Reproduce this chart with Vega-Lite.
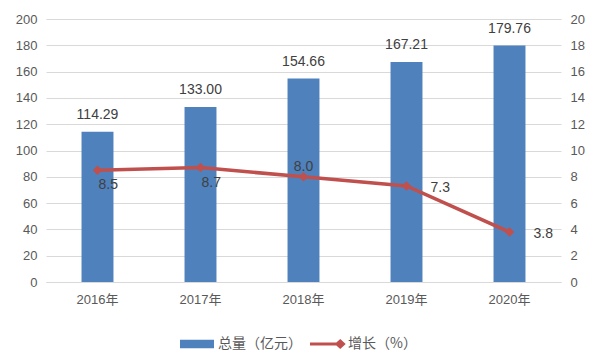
{
  "$schema": "https://vega.github.io/schema/vega-lite/v6.json",
  "width": 515,
  "height": 263,
  "autosize": {"type": "none"},
  "padding": {"left": 46, "top": 19, "right": 41, "bottom": 80},
  "background": "white",
  "config": {
    "font": "Liberation Sans, Noto Sans CJK SC",
    "view": {"stroke": null},
    "axis": {"labelFont": "Liberation Sans, Noto Sans CJK SC", "labelColor": "#595959", "labelFontSize": 13, "title": null, "ticks": false, "labelOverlap": false},
    "legend": {"labelFont": "Noto Sans CJK SC", "labelColor": "#595959", "labelFontSize": 14}
  },
  "data": {
    "values": [
      {"year": "2016年", "total": 114.29, "growth": 8.5},
      {"year": "2017年", "total": 133.00, "growth": 8.7},
      {"year": "2018年", "total": 154.66, "growth": 8.0},
      {"year": "2019年", "total": 167.21, "growth": 7.3},
      {"year": "2020年", "total": 179.76, "growth": 3.8}
    ]
  },
  "encoding": {
    "x": {
      "field": "year",
      "type": "nominal",
      "sort": null,
      "scale": {"paddingInner": 0.69, "paddingOuter": 0.345},
      "axis": {"labelAngle": 0, "domainColor": "#D9D9D9", "domainWidth": 1, "labelPadding": 11}
    }
  },
  "layer": [
    {
      "encoding": {
        "y": {"field": "total", "type": "quantitative", "scale": {"domain": [0, 200]},
          "axis": {"orient": "left", "values": [0,20,40,60,80,100,120,140,160,180,200], "labelOverlap": false, "domain": false, "grid": true, "gridColor": "#D9D9D9", "labelPadding": 9}}
      },
      "layer": [
        {
          "mark": {"type": "bar", "fill": "#4F81BD"},
          "encoding": {
            "color": {"datum": "总量（亿元）", "type": "nominal",
              "scale": {"domain": ["总量（亿元）", "增长（%）"], "range": ["#4F81BD", "#C0504D"]},
              "legend": {
                "orient": "none", "legendX": 134, "legendY": 308, "direction": "horizontal", "title": null,
                "symbolSize": 1156, "symbolStrokeWidth": 0, "labelOffset": 4, "columnPadding": 8,
                "encode": {"symbols": {"update": {
                  "shape": {"signal": "datum.label === '总量（亿元）' ? 'M-1,-0.25H1V0.25H-1Z' : 'M-1,-0.09H0.55V0.09H-1Z M0.45,0L0.78,-0.3L1.1,0L0.78,0.3Z'"},
                  "fill": {"signal": "datum.label === '总量（亿元）' ? '#4F81BD' : '#C0504D'"},
                  "stroke": {"value": null}, "strokeWidth": {"value": 0}, "opacity": {"value": 1}, "fillOpacity": {"value": 1}
                }}}
              }}
          }
        },
        {
          "mark": {"type": "text", "baseline": "bottom", "dy": -10, "fontSize": 14, "color": "#404040"},
          "encoding": {
            "text": {"field": "total", "type": "quantitative", "format": ".2f"}
          }
        }
      ]
    },
    {
      "encoding": {
        "y": {"field": "growth", "type": "quantitative", "scale": {"domain": [0, 20]},
          "axis": {"orient": "right", "values": [0,2,4,6,8,10,12,14,16,18,20], "labelOverlap": false, "domain": false, "grid": false, "labelPadding": 9}}
      },
      "layer": [
        {
          "mark": {"type": "line", "strokeWidth": 3.5, "point": {"shape": "diamond", "size": 90, "filled": true, "color": "#C0504D"}},
          "encoding": {
            "color": {"datum": "增长（%）", "type": "nominal"}
          }
        },
        {
          "transform": [{"filter": "datum.year === '2016年' || datum.year === '2017年'"}],
          "mark": {"type": "text", "align": "left", "baseline": "middle", "dx": 1, "dy": 15, "fontSize": 14, "color": "#404040"},
          "encoding": {
            "text": {"field": "growth", "type": "quantitative", "format": ".1f"}
          }
        },
        {
          "transform": [{"filter": "datum.year === '2018年'"}],
          "mark": {"type": "text", "align": "center", "baseline": "middle", "dy": -10, "fontSize": 14, "color": "#404040"},
          "encoding": {
            "text": {"field": "growth", "type": "quantitative", "format": ".1f"}
          }
        },
        {
          "transform": [{"filter": "datum.year === '2019年' || datum.year === '2020年'"}],
          "mark": {"type": "text", "align": "left", "baseline": "middle", "dx": 24, "dy": 2, "fontSize": 14, "color": "#404040"},
          "encoding": {
            "text": {"field": "growth", "type": "quantitative", "format": ".1f"}
          }
        }
      ]
    }
  ],
  "resolve": {"scale": {"y": "independent"}}
}
